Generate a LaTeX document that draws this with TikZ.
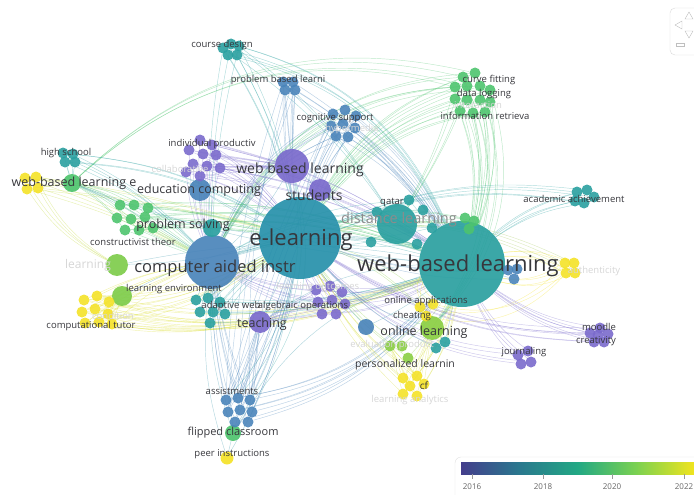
\documentclass[tikz,border=0pt]{standalone}
\usepackage{fontspec}
\setmainfont{Open Sans}
\usetikzlibrary{backgrounds}
\definecolor{vpur}{RGB}{122,106,204}
\definecolor{vblue}{RGB}{74,132,186}
\definecolor{vteal}{RGB}{42,160,160}
\definecolor{vgreen}{RGB}{78,196,110}
\definecolor{vlime}{RGB}{138,206,66}
\definecolor{vyel}{RGB}{244,226,40}
\definecolor{txt}{RGB}{55,55,60}
\definecolor{vira}{RGB}{68,62,140}
\definecolor{virb}{RGB}{42,120,142}
\definecolor{virc}{RGB}{34,168,132}
\definecolor{vird}{RGB}{122,209,81}
\definecolor{vire}{RGB}{240,228,30}
\pgfdeclarehorizontalshading{viridisbar}{100bp}{color(0bp)=(vira); color(25bp)=(vira); color(37.5bp)=(virb); color(50bp)=(virc); color(62.5bp)=(vird); color(75bp)=(vire); color(100bp)=(vire)}
\newcommand{\blob}[4]{%
  \begin{scope}[shift={#2}]
  \foreach \dx/\dy [count=\k] in {#4} {\node[dot,fill=#3] (#1-\k) at (\dx,\dy) {};}
  \end{scope}}
\begin{document}
\begin{tikzpicture}[x=1pt,y=-1pt,
  dot/.style={circle,inner sep=0pt,minimum size=11,fill opacity=0.9},
  hub/.style={circle,inner sep=0pt,fill opacity=0.92},
  lab/.style={text=txt,inner sep=0pt,font=\fontsize{9.5}{10}\selectfont},
  labm/.style={lab,font=\fontsize{12.5}{13}\selectfont},
  faint/.style={lab,text=black!16},
  e/.style={line width=0.45pt,draw opacity=0.38}]
\useasboundingbox (0,0) rectangle (694,495);
% hubs
\node[hub,fill=vteal!90!blue,minimum size=82] (el) at (300,238) {};
\node[hub,fill=vteal,minimum size=86] (wbl) at (462,264) {};
\node[hub,fill=vblue,minimum size=54] (cai) at (212,262) {};
\node[hub,fill=vteal,minimum size=40] (dl) at (397,224) {};
\node[hub,fill=vpur,minimum size=34] (wbpl) at (292,166) {};
\node[hub,fill=vpur,minimum size=22] (stu) at (320,190) {};
\node[hub,fill=vblue,minimum size=22] (edc) at (200,190) {};
\node[hub,fill=vgreen,minimum size=18] (wble) at (72,183) {};
\node[hub,fill=vlime!80!vgreen,minimum size=22] (lrn) at (117,265) {};
\node[hub,fill=vlime!80!vgreen,minimum size=20] (lenv) at (122,296) {};
\node[hub,fill=vpur,minimum size=22] (tch) at (260,322) {};
\node[hub,fill=vlime,minimum size=24] (ol) at (432,328) {};
\node[hub,fill=vgreen,minimum size=16] (fc) at (233,433) {};
\node[hub,fill=vyel,minimum size=13] (py) at (227,458) {};
\node[hub,fill=vblue,minimum size=16] (sb) at (366,327) {};
\node[hub,fill=vteal,minimum size=18] (pst) at (212,228) {};
% clusters
\blob{cd}{(230,48)}{vteal}{-7/0,1/-4,9/-2,-2/7,7/7}
\blob{pbl}{(288,86)}{vblue}{-5/-4,5/-4,-3/4,7/4}
\blob{cs}{(343,122)}{vblue}{-10/-8,2/-12,13/-6,-12/4,0/2,12/6,-7/14,5/15}
\blob{dlg}{(472,95)}{vgreen}{-9/-18,3/-22,-17/-8,-5/-9,8/-9,18/-5,-17/4,-5/5,8/5,18/7,-12/16,1/18,13/17}
\blob{hs}{(67,157)}{vteal}{-4/-4,6/-3,-2/5,8/5}
\blob{ye}{(31,183)}{vyel}{-6/-5,5/-6,-4/6,7/5}
\blob{ip}{(205,160)}{vpur}{-5/-20,7/-15,-16/-10,-2/-6,11/-5,-12/4,2/6,15/8,-19/12,-5/16}
\blob{psg}{(133,218)}{vgreen}{-13/-13,1/-13,15/-10,-16/0,-2/1,12/-1,-8/12,6/12,20/10}
\blob{ct}{(96,310)}{vyel}{-12/-10,1/-14,13/-8,-14/2,-1/-1,12/4,-11/13,3/12,16/14}
\blob{aw}{(208,306)}{vteal}{-12/-6,0/-8,12/-4,-8/6,5/6,17/8,2/17}
\blob{alg}{(330,300)}{vpur}{-14/-10,0/-14,12/-8,-12/2,2/0,15/4,-8/14,6/14}
\blob{as}{(240,408)}{vblue}{-14/-8,-2/-10,10/-8,-12/4,0/2,12/4,-5/14,8/14}
\blob{cfy}{(410,386)}{vyel}{-7/-8,7/-10,0/0,14/-2,-7/8,7/10}
\blob{pl}{(398,346)}{vlime}{-8/0,4/0,10/12}
\blob{jr}{(525,357)}{vpur}{-7/-2,3/-6,6/5,-4/7}
\blob{md}{(598,334)}{vpur}{-8/-1,2/-6,10/0,-4/8,6/8,0/1}
\blob{aa}{(583,196)}{vteal}{-6/-4,4/-6,11/1,1/7,-8/5}
\blob{yr}{(569,268)}{vyel}{-4/-5,5/-5,-3/5,6/5}
\blob{br}{(512,273)}{vblue}{-4/-3,5/-4,2/6}
\blob{oa}{(428,310)}{vyel}{-8/-3,5/-6,-2/6}
\blob{gr}{(467,224)}{vgreen}{-2/-6,7/-3,2/5}
\blob{dls}{(397,224)}{vteal}{-20/-12,26/-14,12/-24,20/20,-26/18,35/4}
\blob{tl}{(445,342)}{vteal}{0/0,-9/6}
% edges
\begin{scope}[on background layer]
\foreach \k in {1,...,5}{\draw[e,vteal] (cd-\k) to[bend left=8] (el); \draw[e,vteal] (cd-\k) to[bend left=25] (wbl);}
\foreach \k in {1,...,3}{\draw[e,vteal] (cd-\k) to[bend right=6] (cai); \draw[e,vteal] (cd-\k) to[bend left=10] (dl);}
\foreach \k in {1,...,4}{\draw[e,vblue] (pbl-\k) to[bend right=5] (el); \draw[e,vblue] (pbl-\k) to (wbpl); \draw[e,vblue] (pbl-\k) to[bend left=12] (wbl); \draw[e,vblue] (pbl-\k) to[bend right=8] (as-\k);}
\foreach \k in {1,...,8}{\draw[e,vblue] (cs-\k) to[bend right=8] (el); \draw[e,vblue] (cs-\k) to[bend left=12] (wbl); \draw[e,vblue] (cs-\k) to[bend right=20] (cai);}
\foreach \k in {1,...,5}{\draw[e,vblue] (cs-\k) to[bend right=6] (as-\k);}
\foreach \k in {1,...,13}{\draw[e,vgreen] (dlg-\k) to[bend left=14] (wbl); \draw[e,vgreen] (dlg-\k) to[bend right=20] (el);}
\foreach \k in {1,...,6}{\draw[e,vgreen] (dlg-\k) to[bend right=30] (cai); \draw[e,vgreen] (dlg-\k) to[bend left=30] (ol);}
\foreach \k in {1,...,4}{\draw[e,vgreen] (dlg-\k) to[bend right=28] (wble); \draw[e,vgreen] (dlg-\k) to[bend left=6] (dl);}
\foreach \k in {1,...,4}{\draw[e,vteal] (hs-\k) to[bend left=10] (cai); \draw[e,vteal] (hs-\k) to[bend left=12] (el); \draw[e,vteal] (hs-\k) to (wble);}
\foreach \k in {1,...,4}{\draw[e,vyel!70!vgreen] (ye-\k) to (wble); \draw[e,vyel!70!vgreen] (ye-\k) to[bend right=15] (lrn); \draw[e,vyel!70!vgreen] (ye-\k) to[bend left=5] (cai); \draw[e,vyel!70!vgreen] (ye-\k) to[bend left=4] (el);}
\foreach \k in {1,...,10}{\draw[e,vpur] (ip-\k) to[bend left=10] (el); \draw[e,vpur] (ip-\k) to (wbpl); \draw[e,vpur] (ip-\k) to[bend right=8] (cai); \draw[e,vpur] (ip-\k) to[bend left=10] (wbl);}
\foreach \k in {1,...,9}{\draw[e,vgreen] (psg-\k) to[bend left=5] (el); \draw[e,vgreen] (psg-\k) to (cai); \draw[e,vgreen] (psg-\k) to[bend right=10] (wble); \draw[e,vgreen] (psg-\k) to[bend left=12] (wbl);}
\foreach \k in {1,...,9}{\draw[e,vyel!75!vlime] (ct-\k) to[bend left=8] (cai); \draw[e,vyel!75!vlime] (ct-\k) to (lenv); \draw[e,vyel!75!vlime] (ct-\k) to[bend right=12] (el); \draw[e,vyel!75!vlime] (ct-\k) to[bend right=14] (wbl); \draw[e,vyel!75!vlime] (ct-\k) to[bend right=10] (tch);}
\foreach \k in {1,...,7}{\draw[e,vteal] (aw-\k) to[bend left=6] (el); \draw[e,vteal] (aw-\k) to (cai); \draw[e,vteal] (aw-\k) to[bend right=10] (wbl);}
\foreach \k in {1,...,8}{\draw[e,vpur] (alg-\k) to[bend left=8] (el); \draw[e,vpur] (alg-\k) to[bend right=12] (wbl); \draw[e,vpur] (alg-\k) to (tch); \draw[e,vpur] (alg-\k) to[bend left=10] (cai);}
\foreach \k in {1,...,8}{\draw[e,vblue] (as-\k) to[bend right=6] (el); \draw[e,vblue] (as-\k) to[bend left=6] (cai); \draw[e,vblue] (as-\k) to (tch); \draw[e,vblue] (as-\k) to[bend right=18] (wbl);}
\foreach \k in {1,...,3}{\draw[e,vblue] (as-\k) to[bend left=10] (fc); \draw[e,vteal] (as-\k) to[bend right=25] (wbpl);}
\foreach \k in {1,...,6}{\draw[e,vyel!70!vlime] (cfy-\k) to (ol); \draw[e,vyel!70!vlime] (cfy-\k) to (pl-1); \draw[e,vyel!70!vlime] (cfy-\k) to[bend right=10] (wbl); \draw[e,vyel!70!vlime] (cfy-\k) to[bend left=10] (el);}
\foreach \k in {1,...,3}{\draw[e,vlime] (pl-\k) to[bend right=8] (wbl); \draw[e,vlime] (pl-\k) to[bend left=8] (el); \draw[e,vlime] (oa-\k) to[bend right=12] (el); \draw[e,vyel] (oa-\k) to[bend left=30] (wbl); \draw[e,vyel] (oa-\k) to[bend right=30] (yr-\k);}
\foreach \k in {1,...,4}{\draw[e,vpur] (jr-\k) to[bend left=10] (wbl); \draw[e,vpur] (jr-\k) to[bend left=20] (el);}
\foreach \k in {1,...,6}{\draw[e,vpur] (md-\k) to[bend left=12] (wbl); \draw[e,vpur] (md-\k) to[bend left=15] (el);}
\foreach \k in {1,...,5}{\draw[e,vteal] (aa-\k) to[bend right=12] (wbl); \draw[e,vteal] (aa-\k) to[bend right=14] (el);}
\foreach \k in {1,...,4}{\draw[e,vyel] (yr-\k) to[bend right=15] (wbl); \draw[e,vyel] (yr-\k) to[bend left=20] (wbl); \draw[e,vyel!60!vteal] (yr-\k) to[bend right=18] (el);}
\foreach \k in {1,...,3}{\draw[e,vblue] (br-\k) to (wbl); \draw[e,vblue] (br-\k) to[bend left=10] (el); \draw[e,vgreen] (gr-\k) to (dl); \draw[e,vgreen] (gr-\k) to[bend right=15] (el);}
\foreach \k in {1,...,6}{\draw[e,vteal] (dls-\k) to[bend left=6] (el); \draw[e,vteal] (dls-\k) to (wbl); \draw[e,vteal] (dls-\k) to[bend right=12] (cai);}
\foreach \a/\b/\bb in {el/wbl/8,el/cai/0,cai/wbl/18,wbpl/wbl/-10,wbpl/cai/8,stu/wbl/-6,edc/wbl/-12,edc/el/-5,tch/wbl/15,tch/el/0,fc/el/-8,fc/cai/10,fc/wbl/20,py/fc/0,py/el/-10,py/cai/12,sb/el/5,sb/wbl/-5,lrn/el/-5,lenv/el/8,lrn/wbl/10,wble/cai/5,wble/el/-8,wble/wbl/-8,ol/el/15,ol/wbl/-10,tl-1/wbl/0,tl-2/el/10}
  {\draw[e,vteal!60!vblue] (\a) to[bend left=\bb] (\b);}
\end{scope}
% labels
\node[lab] (l1) at (222,45) {course design};
\node[lab] (l2) at (278,80) {problem based learni};
\node[lab] (l3) at (335,118) {cognitive support};
\node[faint] (l3b) at (352,129) {hypermedia};
\node[lab] (l4) at (489,80) {curve fitting};
\node[lab] (l5) at (484,94) {data logging};
\node[faint] (l5b) at (478,105) {interaction};
\node[lab] (l6) at (485,116) {information retrieva};
\node[lab] (l7) at (66,153) {high school};
\node[labm] (l8) at (74,183) {web-based learning e};
\node[lab] (l9) at (212,144) {individual productiv};
\node[faint] (l9b) at (180,169) {collaborative};
\node[labm] (l10) at (199,190) {education computing};
\node[lab,font=\fontsize{14}{14}\selectfont] (l11) at (300,170) {web based learning};
\node[lab,font=\fontsize{14}{14}\selectfont] (l12) at (314,195) {students};
\node[labm] (l13) at (183,225) {problem solving};
\node[lab] (l14) at (133,242) {constructivist theor};
\node[faint,font=\fontsize{12}{12}\selectfont] (l15) at (88,265) {learning};
\node[lab,font=\fontsize{16.5}{17}\selectfont] (l16) at (215,268) {computer aided instr};
\node[lab,font=\fontsize{22}{22}\selectfont] (l17) at (301,240) {e-learning};
\node[lab] (l18) at (392,203) {qatar};
\node[lab,text=black!45,font=\fontsize{14.5}{15}\selectfont] (l19) at (399,220) {distance learning};
\node[lab,font=\fontsize{22}{22}\selectfont] (l20) at (458,266) {web-based learning};
\node[lab] (l21) at (174,289) {learning environment};
\node[lab] (l22) at (231,306) {adaptive web};
\node[lab] (l23) at (303,306) {algebraic operations};
\node[faint] (l23b) at (318,287) {learning outcomes};
\node[labm] (l24) at (262,324) {teaching};
\node[lab] (l25) at (426,301) {online applications};
\node[lab] (l26) at (412,316) {cheating};
\node[labm] (l27) at (424,332) {online learning};
\node[faint] (l27b) at (392,345) {evaluation product};
\node[lab,font=\fontsize{10.5}{11}\selectfont] (l28) at (405,365) {personalized learnin};
\node[lab,font=\fontsize{10}{10}\selectfont] (l29) at (424,386) {cf};
\node[faint] (l29b) at (410,400) {learning analytics};
\node[lab] (l30) at (574,199) {academic achievement};
\node[faint] (l30b) at (594,271) {authenticity};
\node[lab] (l31) at (524,352) {journaling};
\node[lab] (l32) at (599,327) {moodle};
\node[lab] (l33) at (596,341) {creativity};
\node[lab] (l34) at (91,326) {computational tutor};
\node[faint] (l34b) at (113,316) {condition};
\node[lab] (l35) at (232,391) {assistments};
\node[lab,font=\fontsize{11}{11}\selectfont] (l36) at (233,433) {flipped classroom};
\node[lab] (l37) at (232,454) {peer instructions};
% legend
\draw[black!12,fill=white,rounded corners=6] (455,457) rectangle (704,501);
\shade[shading=viridisbar] (461,462) rectangle (694,474);
\foreach \x/\yr [count=\n] in {472/2016,543/2018,612/2020,684/2022}{
  \draw[black!40] (\x,474) -- (\x,479);
  \node[lab,text=black!60,font=\fontsize{8}{8}\selectfont] (yr\n) at (\x,487) {\yr};}
% navigation control
\draw[black!15,rounded corners=5] (670,8) rectangle (702,55);
\draw[black!25] (689,12) -- (693,19) -- (685,19) -- cycle;
\draw[black!25] (675,25) -- (682,21) -- (682,29) -- cycle;
\draw[black!25] (689,38) -- (693,31) -- (685,31) -- cycle;
\draw[black!25] (676,43) rectangle (684,46);
\end{tikzpicture}
\end{document}
